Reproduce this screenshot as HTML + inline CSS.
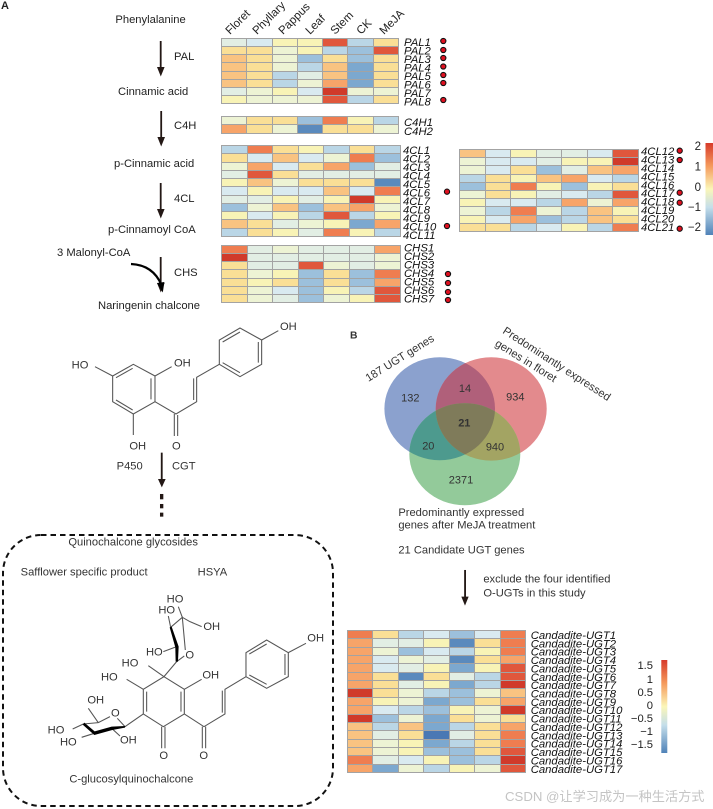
<!DOCTYPE html>
<html><head><meta charset="utf-8"><style>
html,body{margin:0;padding:0;background:#fff}
body{width:713px;height:809px;position:relative;overflow:hidden}
#w{position:absolute;left:0;top:0;width:713px;height:809px;filter:blur(.3px)}
svg{position:absolute;left:0;top:0}
text{font-family:"Liberation Sans","Noto Sans CJK SC",sans-serif;fill:#222}
.g text{font-size:11.3px;font-style:italic;fill:#111}
.t text,.t{font-size:11.2px}
.z text{font-size:33.5px;fill:#333}
.l line,.l path{stroke:#555;stroke-width:3.2;fill:none}
.h{position:absolute;display:grid;grid-template-columns:repeat(7,1fr);grid-auto-rows:1fr;gap:1px;padding:1px;box-sizing:border-box;background:#a3a3a3}
.a{background:#d03a2a}.b{background:#e0573c}.c{background:#ef7d50}.d{background:#f7a469}.e{background:#f9c381}.f{background:#fadf96}.g1{background:#f8f3b6}.h1{background:#edf3d4}.i{background:#e2eee4}.j{background:#d9eaf0}.k{background:#bad6e6}.l1{background:#9cc0dc}.m{background:#7ca8cf}.n{background:#5a8abd}.o{background:#4a78b4}
</style></head><body><div id="w">
<div class="h" style="left:221px;top:38px;width:178px;height:66px">
<i class="i"></i><i class="j"></i><i class="g1"></i><i class="g1"></i><i class="b"></i><i class="k"></i><i class="f"></i>
<i class="f"></i><i class="f"></i><i class="h1"></i><i class="g1"></i><i class="k"></i><i class="l1"></i><i class="b"></i>
<i class="e"></i><i class="f"></i><i class="h1"></i><i class="l1"></i><i class="f"></i><i class="l1"></i><i class="f"></i>
<i class="e"></i><i class="f"></i><i class="h1"></i><i class="k"></i><i class="e"></i><i class="m"></i><i class="f"></i>
<i class="e"></i><i class="f"></i><i class="k"></i><i class="i"></i><i class="e"></i><i class="m"></i><i class="f"></i>
<i class="e"></i><i class="f"></i><i class="k"></i><i class="h1"></i><i class="d"></i><i class="m"></i><i class="f"></i>
<i class="i"></i><i class="h1"></i><i class="g1"></i><i class="j"></i><i class="a"></i><i class="h1"></i><i class="h1"></i>
<i class="g1"></i><i class="h1"></i><i class="h1"></i><i class="h1"></i><i class="b"></i><i class="k"></i><i class="f"></i>
</div>
<div class="h" style="left:221px;top:116px;width:178px;height:17.5px">
<i class="h1"></i><i class="f"></i><i class="f"></i><i class="l1"></i><i class="c"></i><i class="g1"></i><i class="k"></i>
<i class="d"></i><i class="f"></i><i class="h1"></i><i class="n"></i><i class="f"></i><i class="f"></i><i class="h1"></i>
</div>
<div class="h" style="left:221px;top:145px;width:180px;height:92px">
<i class="k"></i><i class="c"></i><i class="f"></i><i class="g1"></i><i class="k"></i><i class="f"></i><i class="k"></i>
<i class="f"></i><i class="j"></i><i class="e"></i><i class="j"></i><i class="h1"></i><i class="c"></i><i class="l1"></i>
<i class="h1"></i><i class="d"></i><i class="j"></i><i class="f"></i><i class="d"></i><i class="l1"></i><i class="i"></i>
<i class="i"></i><i class="b"></i><i class="f"></i><i class="i"></i><i class="i"></i><i class="i"></i><i class="i"></i>
<i class="g1"></i><i class="e"></i><i class="h1"></i><i class="f"></i><i class="f"></i><i class="f"></i><i class="n"></i>
<i class="j"></i><i class="g1"></i><i class="j"></i><i class="j"></i><i class="e"></i><i class="j"></i><i class="c"></i>
<i class="i"></i><i class="i"></i><i class="g1"></i><i class="i"></i><i class="g1"></i><i class="a"></i><i class="g1"></i>
<i class="l1"></i><i class="h1"></i><i class="e"></i><i class="l1"></i><i class="e"></i><i class="d"></i><i class="h1"></i>
<i class="g1"></i><i class="j"></i><i class="g1"></i><i class="k"></i><i class="b"></i><i class="k"></i><i class="g1"></i>
<i class="e"></i><i class="f"></i><i class="i"></i><i class="h1"></i><i class="g1"></i><i class="m"></i><i class="d"></i>
<i class="k"></i><i class="f"></i><i class="g1"></i><i class="i"></i><i class="c"></i><i class="g1"></i><i class="k"></i>
</div>
<div class="h" style="left:221px;top:245px;width:180px;height:58px">
<i class="c"></i><i class="i"></i><i class="h1"></i><i class="i"></i><i class="i"></i><i class="i"></i><i class="d"></i>
<i class="a"></i><i class="i"></i><i class="i"></i><i class="i"></i><i class="i"></i><i class="i"></i><i class="h1"></i>
<i class="f"></i><i class="i"></i><i class="i"></i><i class="b"></i><i class="h1"></i><i class="i"></i><i class="h1"></i>
<i class="f"></i><i class="h1"></i><i class="g1"></i><i class="l1"></i><i class="f"></i><i class="l1"></i><i class="c"></i>
<i class="f"></i><i class="g1"></i><i class="f"></i><i class="l1"></i><i class="f"></i><i class="l1"></i><i class="d"></i>
<i class="f"></i><i class="h1"></i><i class="j"></i><i class="l1"></i><i class="g1"></i><i class="k"></i><i class="b"></i>
<i class="f"></i><i class="h1"></i><i class="i"></i><i class="l1"></i><i class="h1"></i><i class="g1"></i><i class="b"></i>
</div>
<div class="h" style="left:459px;top:149px;width:180px;height:83px">
<i class="e"></i><i class="j"></i><i class="g1"></i><i class="i"></i><i class="i"></i><i class="j"></i><i class="b"></i>
<i class="h1"></i><i class="j"></i><i class="j"></i><i class="i"></i><i class="g1"></i><i class="g1"></i><i class="a"></i>
<i class="h1"></i><i class="j"></i><i class="f"></i><i class="l1"></i><i class="i"></i><i class="e"></i><i class="d"></i>
<i class="k"></i><i class="f"></i><i class="g1"></i><i class="e"></i><i class="d"></i><i class="j"></i><i class="k"></i>
<i class="l1"></i><i class="f"></i><i class="c"></i><i class="g1"></i><i class="l1"></i><i class="g1"></i><i class="f"></i>
<i class="h1"></i><i class="f"></i><i class="g1"></i><i class="i"></i><i class="j"></i><i class="k"></i><i class="b"></i>
<i class="g1"></i><i class="j"></i><i class="j"></i><i class="k"></i><i class="d"></i><i class="h1"></i><i class="d"></i>
<i class="h1"></i><i class="k"></i><i class="c"></i><i class="h1"></i><i class="k"></i><i class="e"></i><i class="g1"></i>
<i class="g1"></i><i class="j"></i><i class="d"></i><i class="l1"></i><i class="k"></i><i class="e"></i><i class="f"></i>
<i class="f"></i><i class="f"></i><i class="k"></i><i class="j"></i><i class="g1"></i><i class="k"></i><i class="c"></i>
</div>
<div class="h" style="left:347px;top:630px;width:179px;height:143px">
<i class="c"></i><i class="f"></i><i class="k"></i><i class="j"></i><i class="l1"></i><i class="j"></i><i class="c"></i>
<i class="d"></i><i class="i"></i><i class="i"></i><i class="g1"></i><i class="n"></i><i class="f"></i><i class="c"></i>
<i class="d"></i><i class="h1"></i><i class="l1"></i><i class="j"></i><i class="k"></i><i class="g1"></i><i class="c"></i>
<i class="d"></i><i class="j"></i><i class="h1"></i><i class="i"></i><i class="n"></i><i class="f"></i><i class="d"></i>
<i class="d"></i><i class="j"></i><i class="i"></i><i class="g1"></i><i class="m"></i><i class="g1"></i><i class="b"></i>
<i class="d"></i><i class="f"></i><i class="n"></i><i class="f"></i><i class="i"></i><i class="k"></i><i class="b"></i>
<i class="d"></i><i class="f"></i><i class="i"></i><i class="g1"></i><i class="m"></i><i class="k"></i><i class="a"></i>
<i class="a"></i><i class="f"></i><i class="h1"></i><i class="k"></i><i class="l1"></i><i class="h1"></i><i class="e"></i>
<i class="d"></i><i class="g1"></i><i class="h1"></i><i class="m"></i><i class="l1"></i><i class="f"></i><i class="d"></i>
<i class="d"></i><i class="j"></i><i class="k"></i><i class="l1"></i><i class="g1"></i><i class="h1"></i><i class="a"></i>
<i class="a"></i><i class="l1"></i><i class="h1"></i><i class="m"></i><i class="f"></i><i class="h1"></i><i class="f"></i>
<i class="e"></i><i class="k"></i><i class="e"></i><i class="m"></i><i class="k"></i><i class="f"></i><i class="d"></i>
<i class="e"></i><i class="i"></i><i class="f"></i><i class="o"></i><i class="i"></i><i class="f"></i><i class="c"></i>
<i class="e"></i><i class="h1"></i><i class="g1"></i><i class="m"></i><i class="k"></i><i class="f"></i><i class="c"></i>
<i class="e"></i><i class="h1"></i><i class="g1"></i><i class="l1"></i><i class="l1"></i><i class="f"></i><i class="b"></i>
<i class="c"></i><i class="i"></i><i class="j"></i><i class="g1"></i><i class="l1"></i><i class="k"></i><i class="a"></i>
<i class="d"></i><i class="m"></i><i class="h1"></i><i class="k"></i><i class="g1"></i><i class="h1"></i><i class="b"></i>
</div>
<svg width="713" height="809" viewBox="0 0 713 809" xmlns="http://www.w3.org/2000/svg">
<defs>
<linearGradient id="cb" x1="0" y1="0" x2="0" y2="1"><stop offset="0" stop-color="#d73a2a"/><stop offset=".25" stop-color="#f59a5c"/><stop offset=".5" stop-color="#fbf6b8"/><stop offset=".7" stop-color="#c4deea"/><stop offset="1" stop-color="#4f82b8"/></linearGradient>
<clipPath id="cB"><ellipse cx="439.7" cy="408.7" rx="55.3" ry="51.5"/></clipPath>
<clipPath id="cR"><ellipse cx="491.2" cy="408.9" rx="55.5" ry="51.7"/></clipPath>
</defs>
<g class="t">
<text x="1" y="9" font-weight="bold" style="font-size:11px">A</text>
<text x="115.4" y="23">Phenylalanine</text>
<text x="174" y="60">PAL</text>
<text x="118" y="95">Cinnamic acid</text>
<text x="174" y="129">C4H</text>
<text x="114" y="167">p-Cinnamic acid</text>
<text x="174" y="202">4CL</text>
<text x="108" y="233">p-Cinnamoyl CoA</text>
<text x="57" y="256">3 Malonyl-CoA</text>
<text x="174" y="276">CHS</text>
<text x="98" y="309">Naringenin chalcone</text>
</g>
<g fill="#231815" stroke="none">
<rect x="159.8" y="41" width="1.8" height="28"/><path d="M157 67h7.6l-3.8 9.5z"/>
<rect x="160.3" y="111" width="1.8" height="28"/><path d="M157.4 137h7.6l-3.8 9.5z"/>
<rect x="159.8" y="183" width="1.8" height="28"/><path d="M157 209h7.6l-3.8 9.5z"/>
<rect x="159.8" y="257" width="1.8" height="28"/><path d="M157 283h7.6l-3.8 9.5z"/>
<path d="M131 264 Q153 265 161.5 285" stroke="#000" stroke-width="2.2" fill="none"/>
<path d="M157 283l7.4-1 -1.6 10.5z" fill="#000"/>
</g>
<g>
<text transform="translate(230,35) rotate(-45)" style="font-size:11.5px">Floret</text>
<text transform="translate(257,35) rotate(-45)" style="font-size:11.5px">Phyllary</text>
<text transform="translate(283,35) rotate(-45)" style="font-size:11.5px">Pappus</text>
<text transform="translate(310,35) rotate(-45)" style="font-size:11.5px">Leaf</text>
<text transform="translate(335,35) rotate(-45)" style="font-size:11.5px">Stem</text>
<text transform="translate(361,35) rotate(-45)" style="font-size:11.5px">CK</text>
<text transform="translate(384,35) rotate(-45)" style="font-size:11.5px">MeJA</text>
</g>
<g class="g">
<text x="404" y="46">PAL1</text><text x="404" y="54.5">PAL2</text><text x="404" y="63">PAL3</text><text x="404" y="71.5">PAL4</text><text x="404" y="80">PAL5</text><text x="404" y="88.5">PAL6</text><text x="404" y="97">PAL7</text><text x="404" y="105.5">PAL8</text>
<text x="404" y="126">C4H1</text><text x="404" y="135">C4H2</text>
<text x="403" y="154">4CL1</text><text x="403" y="162.5">4CL2</text><text x="403" y="171">4CL3</text><text x="403" y="179.5">4CL4</text><text x="403" y="188">4CL5</text><text x="403" y="196.5">4CL6</text><text x="403" y="205">4CL7</text><text x="403" y="213.5">4CL8</text><text x="403" y="222">4CL9</text><text x="403" y="230.5">4CL10</text><text x="403" y="239">4CL11</text>
<text x="404" y="251.7">CHS1</text><text x="404" y="260.2">CHS2</text><text x="404" y="268.7">CHS3</text><text x="404" y="277.2">CHS4</text><text x="404" y="285.7">CHS5</text><text x="404" y="294.2">CHS6</text><text x="404" y="302.7">CHS7</text>
<text x="641" y="155">4CL12</text><text x="641" y="163.4">4CL13</text><text x="641" y="171.9">4CL14</text><text x="641" y="180.3">4CL15</text><text x="641" y="188.8">4CL16</text><text x="641" y="197.2">4CL17</text><text x="641" y="205.7">4CL18</text><text x="641" y="214.1">4CL19</text><text x="641" y="222.6">4CL20</text><text x="641" y="231">4CL21</text>
<text x="530.7" y="639">Candadite-UGT1</text><text x="530.7" y="647.4">Candadite-UGT2</text><text x="530.7" y="655.7">Candadite-UGT3</text><text x="530.7" y="664.1">Candadite-UGT4</text><text x="530.7" y="672.4">Candadite-UGT5</text><text x="530.7" y="680.8">Candadite-UGT6</text><text x="530.7" y="689.2">Candadite-UGT7</text><text x="530.7" y="697.5">Candadite-UGT8</text><text x="530.7" y="705.9">Candadite-UGT9</text><text x="530.7" y="714.2">Candadite-UGT10</text><text x="530.7" y="722.6">Candadite-UGT11</text><text x="530.7" y="731">Candadite-UGT12</text><text x="530.7" y="739.3">Candadite-UGT13</text><text x="530.7" y="747.7">Candadite-UGT14</text><text x="530.7" y="756">Candadite-UGT15</text><text x="530.7" y="764.4">Candadite-UGT16</text><text x="530.7" y="772.8">Candadite-UGT17</text>
</g>
<g fill="#e01020" stroke="#111" stroke-width="1.1">
<circle cx="443.3" cy="41" r="2.6"/><circle cx="443.3" cy="50" r="2.6"/><circle cx="443.3" cy="58" r="2.6"/><circle cx="443.3" cy="66.5" r="2.6"/><circle cx="443.3" cy="75" r="2.6"/><circle cx="443.3" cy="83" r="2.6"/><circle cx="443.3" cy="100" r="2.6"/>
<circle cx="447" cy="191.7" r="2.6"/><circle cx="447" cy="226" r="2.6"/>
<circle cx="448" cy="274" r="2.6"/><circle cx="448" cy="283" r="2.6"/><circle cx="448" cy="292" r="2.6"/><circle cx="448" cy="300" r="2.6"/>
<circle cx="679.7" cy="150.7" r="2.6"/><circle cx="679.7" cy="160" r="2.6"/><circle cx="679.7" cy="192.7" r="2.6"/><circle cx="679.7" cy="202.7" r="2.6"/><circle cx="679.7" cy="228.7" r="2.6"/>
</g>
<rect x="705.5" y="143" width="7.5" height="92" fill="url(#cb)"/>
<g text-anchor="end">
<text x="701" y="150" style="font-size:11.5px">2</text><text x="701" y="170.5" style="font-size:11.5px">1</text><text x="701" y="191" style="font-size:11.5px">0</text><text x="701" y="211" style="font-size:11.5px">−1</text><text x="701" y="231" style="font-size:11.5px">−2</text>
</g>
<rect x="661.3" y="660" width="6" height="93" fill="url(#cb)"/>
<g text-anchor="end">
<text x="653" y="669" style="font-size:11.2px">1.5</text><text x="653" y="683" style="font-size:11.2px">1</text><text x="653" y="696" style="font-size:11.2px">0.5</text><text x="653" y="709" style="font-size:11.2px">0</text><text x="653" y="722" style="font-size:11.2px">−0.5</text><text x="653" y="735" style="font-size:11.2px">−1</text><text x="653" y="748" style="font-size:11.2px">−1.5</text>
</g>
<g transform="translate(40,320) scale(.3333)">
<g class="l">
<path d="M218 168L280 133L345 168V245L280 282L218 245Z"/>
<path d="M228 173L278 145M333 175V238M228 240L278 270"/>
<path d="M218 168L165 140M345 168L395 140M280 282V345M345 245L408 282L470 245V172L538 133M403 282V348M413 285V348M461 240V175"/>
<path d="M538 133L600 170L665 133V60L600 24L538 60Z"/>
<path d="M548 128L600 158M655 128V66M600 36L548 66M665 60L715 32"/>
</g>
<g class="z">
<text x="95" y="145">HO</text><text x="402" y="140">OH</text><text x="268" y="388">OH</text><text x="396" y="388">O</text><text x="720" y="30">OH</text>
<text x="230" y="448">P450</text><text x="396" y="448">CGT</text>
</g>
<g fill="#231815"><rect x="362.5" y="398" width="5.5" height="84"/><path d="M354 477h23l-11.500 25z"/>
<rect x="360" y="522" width="10" height="16"/><rect x="360" y="552" width="10" height="13"/><rect x="360" y="578" width="10" height="12"/></g>
</g>
<rect x="3" y="535" width="330" height="271" rx="38" ry="38" fill="none" stroke="#111" stroke-width="2" stroke-dasharray="5.500 4"/>
<g transform="translate(0,530) scale(.3333)">
<g class="l">
<path d="M492 440L553 478V552L490 590L430 552V478Z"/>
<path d="M440 485V545M543 485V545"/>
<path d="M430 478L380 448M492 440L445 407M553 478L605 448M485 590V655M495 590V655M553 552L612 590L675 552V478L738 440M607 590V655M617 590V655M667 548V482"/>
<path d="M738 440L800 475L865 440V368L800 330L738 368Z"/>
<path d="M748 435L800 463M855 435V372M800 342L748 372M865 368L918 340"/>
<path d="M492 440L530 395M530 395L553 378M512 292L547 262L556 360M547 262L570 275L605 290M547 262L535 230M512 292L505 258M530 350L490 365"/>
<path d="M375 590L352 565M330 560L295 578L250 582M295 578L265 535M250 582L218 597M283 610L245 622M335 595L360 618M375 590L430 552"/>
</g>
<path d="M509 292L515 290L536 350L534 395L527 395L526 352Z" fill="#000"/>
<path d="M248 584L253 578L284 604L335 590L376 588L375 593L337 600L283 615Z" fill="#000"/>
<g class="z">
<text x="500" y="218">HO</text><text x="475" y="250">HO</text><text x="610" y="300">OH</text><text x="438" y="376">HO</text><text x="556" y="385">O</text>
<text x="365" y="410">HO</text><text x="303" y="452">HO</text><text x="607" y="445">OH</text><text x="922" y="335">OH</text>
<text x="333" y="560">O</text><text x="262" y="520">OH</text><text x="143" y="610">HO</text><text x="180" y="646">HO</text><text x="360" y="641">OH</text>
<text x="478" y="687">O</text><text x="598" y="687">O</text>
<text x="205" y="47">Quinochalcone glycosides</text>
<text x="62" y="137">Safflower specific product</text>
<text x="593" y="137">HSYA</text>
<text x="208" y="758">C-glucosylquinochalcone</text>
</g>
</g>
<ellipse cx="439.7" cy="408.7" rx="55.3" ry="51.5" fill="#8ba1ce"/>
<ellipse cx="491.2" cy="408.9" rx="55.500" ry="51.700" fill="#e38a8d"/>
<ellipse cx="464.8" cy="454.2" rx="55.500" ry="51" fill="#93ca9a"/>
<ellipse cx="491.2" cy="408.9" rx="55.500" ry="51.700" fill="#b0607a" clip-path="url(#cB)"/>
<ellipse cx="464.8" cy="454.2" rx="55.500" ry="51" fill="#4d9a8e" clip-path="url(#cB)"/>
<ellipse cx="464.8" cy="454.2" rx="55.500" ry="51" fill="#a3a463" clip-path="url(#cR)"/>
<g clip-path="url(#cB)"><ellipse cx="464.8" cy="454.2" rx="55.500" ry="51" fill="#7f7b5a" clip-path="url(#cR)"/></g>
<g transform="translate(340,320) scale(.3333)">
<g class="z" text-anchor="middle">
<text x="211" y="244" style="font-size:33px">132</text><text x="375" y="216" style="font-size:33px">14</text><text x="526" y="242" style="font-size:33px">934</text><text x="373" y="319" style="font-size:33px;font-weight:bold">21</text><text x="265" y="388" style="font-size:33px">20</text><text x="465" y="391" style="font-size:33px">940</text><text x="363" y="490" style="font-size:33px">2371</text>
</g>
<g class="z">
<text x="30" y="56" style="font-weight:bold;font-size:31px">B</text>
<text transform="translate(85,186) rotate(-32)">187 UGT genes</text>
<text transform="translate(486,38) rotate(33)">Predominantly expressed</text>
<text transform="translate(463,76) rotate(32)">genes in floret</text>
<text x="175" y="588">Predominantly expressed</text>
<text x="175" y="626">genes after MeJA treatment</text>
<text x="175" y="701">21 Candidate UGT genes</text>
<text x="430" y="788">exclude the four identified</text>
<text x="430" y="830">O-UGTs in this study</text>
</g>
<g fill="#231815"><rect x="372.500" y="750" width="5.500" height="85"/><path d="M364 830h22l-11 27z"/></g>
</g>
<text x="505" y="801" style="font-size:13.2px;fill:#c4c4c4">CSDN @让学习成为一种生活方式</text>
</svg>
</div></body></html>
